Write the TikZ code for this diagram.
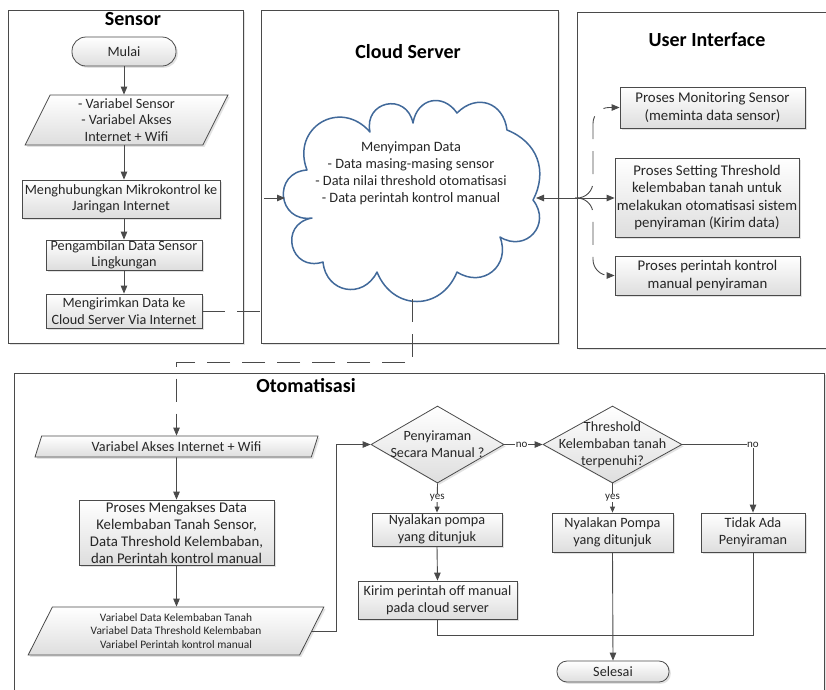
\documentclass[tikz,border=0pt]{standalone}
\usepackage{fontspec}
\setmainfont{Carlito}
\usetikzlibrary{arrows.meta,shapes.geometric,shadows,calc}
\definecolor{linec}{HTML}{4A4A4A}
\definecolor{txtc}{HTML}{262626}
\definecolor{cloudc}{HTML}{41699A}
\begin{document}
\begin{tikzpicture}[x=1pt,y=-1pt,
  every node/.style={text=txtc},
  conn/.style={draw=linec, line width=0.9pt},
  tip/.style={-{Triangle[length=8pt,width=6.5pt]}},
  arr/.style={conn, tip},
  dconn/.style={conn, dash pattern=on 23pt off 12pt},
  panel/.style={draw=linec, line width=0.8pt, fill=white, inner sep=0pt,
    drop shadow={shadow xshift=2pt,shadow yshift=-2pt,fill=black!22}},
  paneltitle/.style={font=\bfseries\fontsize{20}{22}\selectfont, text=black},
  boxbase/.style={draw=linec, line width=0.8pt, top color=white, bottom color=black!13,
    drop shadow={shadow xshift=1.8pt,shadow yshift=-1.8pt,fill=black!22},
    align=center, font=\fontsize{14.2}{16.5}\selectfont, inner sep=0.5pt},
  proc/.style={boxbase, rectangle},
  proc2/.style={boxbase, rectangle, font=\fontsize{14.2}{17}\selectfont},
  uibox/.style={boxbase, rectangle, font=\fontsize{14.8}{17.5}\selectfont},
  term/.style={boxbase, rectangle, rounded corners=#1},
  iobox/.style={boxbase, trapezium, trapezium stretches=true, trapezium left angle=#1},
  dia/.style={boxbase, diamond},
  diatext/.style={align=center, font=\fontsize{14.1}{17}\selectfont},
  lbl/.style={font=\fontsize{11}{12}\selectfont, fill=white, inner sep=0.6pt},
  cloudline/.style={draw=cloudc, line width=1.5pt, fill=white, line join=round},
]
\useasboundingbox (0,0) rectangle (826,689);
\clip (0,0) rectangle (826,689);

% ---- swimlane panels
\node[panel, anchor=north west, minimum width=235pt, minimum height=333pt] (psensor) at (8,10) {};
\node[panel, anchor=north west, minimum width=297pt, minimum height=333pt] (pcloud) at (261,10) {};
\node[panel, anchor=north west, minimum width=270pt, minimum height=336pt] (pui) at (577,12) {};
\node[panel, anchor=north west, minimum width=810pt, minimum height=340pt] (pauto) at (14,373) {};

\node[paneltitle] (tsensor) at (133,19) {Sensor};
\node[paneltitle] (tcloud) at (408,52) {Cloud Server};
\node[paneltitle] (tui) at (707,40) {User Interface};
\node[paneltitle] (tauto) at (306,386) {Otomatisasi};

% ---- Sensor
\node[term=14pt, minimum width=104pt, minimum height=29pt] (mulai) at (124,51.5) {Mulai};
\node[iobox=70, trapezium right angle=110, minimum width=203pt, minimum height=50pt] (in1) at (126.5,120)
  {- Variabel Sensor\\- Variabel Akses\\Internet + Wifi};
\node[proc, minimum width=198pt, minimum height=38pt] (mk) at (121,199)
  {Menghubungkan Mikrokontrol ke\\Jaringan Internet};
\node[proc, minimum width=156pt, minimum height=30pt] (peng) at (124,255)
  {Pengambilan Data Sensor\\Lingkungan};
\node[proc, minimum width=156pt, minimum height=34pt] (kirim) at (124,311)
  {Mengirimkan Data ke\\Cloud Server Via Internet};

\draw[arr] (mulai.south) -- (mulai.south |- in1.north);
\draw[arr] (in1.south -| mulai.south) -- (mk.north -| mulai.south);
\draw[arr] (mk.south -| mulai.south) -- (peng.north);
\draw[arr] (peng.south) -- (kirim.north);

% ---- Cloud Server: storage cloud drawn puff by puff
\draw[cloudline] (307,170)
  to[bend left=80, looseness=1.58] (370,132)
  to[bend left=90, looseness=1.85] (413,123)
  to[bend left=68, looseness=1.42] (457,113)
  to[bend left=64, looseness=1.36] (507,130)
  to[bend left=48, looseness=1.12] (533,200)
  to[bend left=80, looseness=1.58] (500,237)
  to[bend left=72, looseness=1.42] (457,272)
  to[bend left=68, looseness=1.36] (377,272)
  to[bend left=74, looseness=1.45] (323,262)
  to[bend left=94, looseness=1.95] (312,218)
  to[bend left=92, looseness=1.85] (307,170) -- cycle;
\coordinate (cW) at (285,198);
\coordinate (cE) at (536,198);
\coordinate (cS) at (412,299);
\node[align=center, font=\fontsize{14.3}{17}\selectfont] (cloudtxt) at (411,173)
  {Menyimpan Data\\- Data masing-masing sensor\\- Data nilai threshold otomatisasi\\- Data perintah kontrol manual};

\draw[dconn, tip] (kirim.east) -- (kirim.east -| pcloud.west) |- (cW);

% ---- User Interface
\node[uibox, minimum width=185pt, minimum height=41pt] (mon) at (712.5,107.5)
  {Proses Monitoring Sensor\\(meminta data sensor)};
\node[uibox, minimum width=184pt, minimum height=79pt] (set) at (707,197.5)
  {Proses Setting Threshold\\kelembaban tanah untuk\\melakukan otomatisasi sistem\\penyiraman (Kirim data)};
\node[uibox, minimum width=185pt, minimum height=39pt] (man) at (707.5,275.5)
  {Proses perintah kontrol\\manual penyiraman};

\coordinate (bx) at (593,198);
\draw[conn, {Triangle[length=8pt,width=6.5pt]}-{Triangle[length=8pt,width=6.5pt]}] (cE) -- (cE -| set.west);
\draw[dconn, rounded corners=16pt, tip] (cE -| bx) ++(-18,0) -- (bx) |- (mon.west);
\draw[dconn, rounded corners=16pt, tip] (cE -| bx) ++(-18,0) -- (bx) |- (man.west);

% ---- Otomatisasi
\node[iobox=69, trapezium right angle=111, minimum width=283pt, minimum height=21pt] (in2) at (176.5,446.5)
  {Variabel Akses Internet + Wifi};
\node[proc2, minimum width=195pt, minimum height=65pt, font=\fontsize{14.8}{17}\selectfont] (acc) at (176.5,532.5)
  {Proses Mengakses Data\\Kelembaban Tanah Sensor,\\Data Threshold Kelembaban,\\dan Perintah kontrol manual};
\node[iobox=65, trapezium right angle=115, minimum width=296pt, minimum height=48pt,
  font=\fontsize{11.4}{13.5}\selectfont] (in3) at (176,631)
  {Variabel Data Kelembaban Tanah\\Variabel Data Threshold Kelembaban\\Variabel Perintah kontrol manual};

\draw[dconn, tip] (cS) -- (cS |- 0,362) -| (in2.north);
\draw[arr] (in2.south) -- (acc.north);
\draw[arr] (acc.south) -- (acc.south |- in3.north);

\node[dia, minimum width=133pt, minimum height=77pt] (d1) at (437.5,444.5) {};
\node[diatext] (d1t) at (437.5,444.5) {Penyiraman\\Secara Manual ?};
\node[dia, minimum width=139pt, minimum height=77pt] (d2) at (612.5,444.5) {};
\node[diatext] (d2t) at (612.5,444.5) {Threshold\\Kelembaban tanah\\terpenuhi?};

\node[proc2, minimum width=130pt, minimum height=33pt] (ny1) at (437,529.5) {Nyalakan pompa\\yang ditunjuk};
\node[proc2, minimum width=159pt, minimum height=38pt] (krm) at (437.5,600) {Kirim perintah off manual\\pada cloud server};
\node[proc2, minimum width=121pt, minimum height=39pt] (ny2) at (612.5,532.5) {Nyalakan Pompa\\yang ditunjuk};
\node[proc2, minimum width=104pt, minimum height=39pt] (tdk) at (753,532.5) {Tidak Ada\\Penyiraman};
\node[term=10pt, minimum width=112pt, minimum height=21pt] (sel) at (613,671.5) {Selesai};

\draw[arr] (in3.east) -| ([xshift=-34pt]d1.west) -- (d1.west);
\draw[arr] (d1.east) -- node[lbl, pos=0.45] {no} (d2.west);
\draw[arr] (d2.east) -| node[lbl, pos=0.5] {no} (tdk.north);
\draw[conn, -{Triangle[length=6pt,width=5pt]}] (d1.south) -- node[lbl, pos=0.5] {yes} (ny1.north);
\draw[conn, -{Triangle[length=6pt,width=5pt]}] (d2.south) -- node[lbl, pos=0.5] {yes} (ny2.north);
\draw[arr] (ny1.south) -- (krm.north);
\draw[arr] (ny2.south) -- (sel.north);
\draw[conn] (krm.south) |- (tdk.south |- 0,635) -- (tdk.south);
\end{tikzpicture}
\end{document}
